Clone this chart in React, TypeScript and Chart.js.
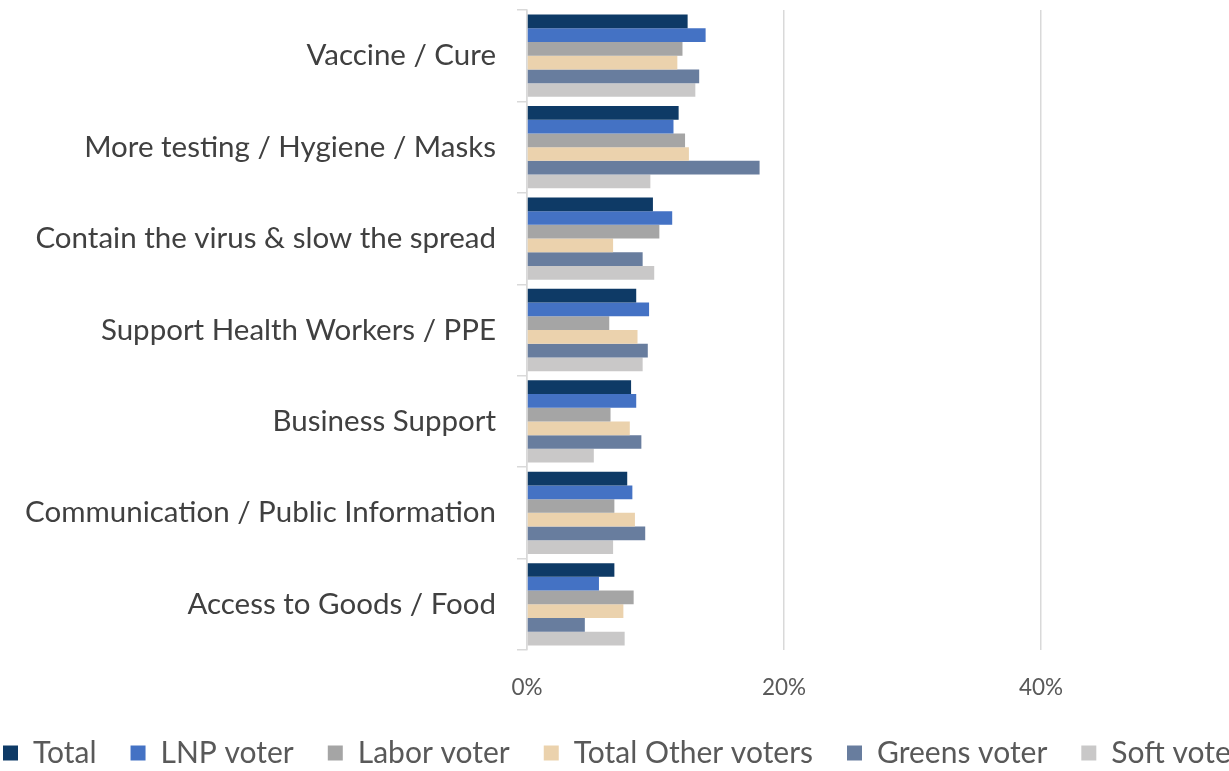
import { useEffect, useRef } from 'react';
import { Chart, registerables } from 'chart.js';

Chart.register(...registerables);

const categories = [
  'Vaccine / Cure',
  'More testing / Hygiene / Masks',
  'Contain the virus & slow the spread',
  'Support Health Workers / PPE',
  'Business Support',
  'Communication / Public Information',
  'Access to Goods / Food',
];

const seriesNames = ['Total', 'LNP voter', 'Labor voter', 'Total Other voters', 'Greens voter', 'Soft voter'];
const seriesColors = ['#0e3a66', '#4472c4', '#a5a5a5', '#ebd2ad', '#687d9e', '#c9c8c8'];

const totalValues = [12.5, 11.8, 9.8, 8.5, 8.1, 7.8, 6.8];
const lnpValues = [13.9, 11.4, 11.3, 9.5, 8.5, 8.2, 5.6];
const laborValues = [12.1, 12.3, 10.3, 6.4, 6.5, 6.8, 8.3];
const otherValues = [11.7, 12.6, 6.7, 8.6, 8.0, 8.4, 7.5];
const greensValues = [13.4, 18.1, 9.0, 9.4, 8.9, 9.2, 4.5];
const softValues = [13.1, 9.6, 9.9, 9.0, 5.2, 6.7, 7.6];

const xTicks = [0, 20, 40, 60];

const FONT = 'Lato, "Open Sans", sans-serif';
const LEGEND_PAD = 34;
const CANVAS_LEFT = 3 - LEGEND_PAD;
const CANVAS_W = 1298 - CANVAS_LEFT;
const CANVAS_H = 778;
const AXIS_X = 527;
const X_AXIS_H = 54;

export default function App() {
  const ref = useRef<HTMLCanvasElement | null>(null);

  useEffect(() => {
    if (!ref.current) return;
    const allValues = [totalValues, lnpValues, laborValues, otherValues, greensValues, softValues];
    const chart = new Chart(ref.current, {
      type: 'bar',
      data: {
        labels: categories,
        datasets: seriesNames.map((name, i) => ({
          label: name,
          data: allValues[i],
          backgroundColor: seriesColors[i],
          borderWidth: 0,
          categoryPercentage: 0.9,
          barPercentage: 1.0,
        })),
      },
      options: {
        indexAxis: 'y',
        responsive: false,
        animation: false,
        layout: { padding: { top: 10, left: 0, right: 0, bottom: 0 } },
        plugins: {
          tooltip: { enabled: false },
          legend: {
            position: 'bottom',
            align: 'start',
            labels: {
              boxWidth: 15,
              boxHeight: 15,
              padding: LEGEND_PAD,
              color: '#595959',
              font: { family: FONT, size: 30 },
            },
          },
        },
        scales: {
          x: {
            min: 0,
            max: 60,
            afterBuildTicks: (scale: any) => {
              scale.ticks = xTicks.map((v) => ({ value: v }));
            },
            afterFit: (scale: any) => {
              scale.height = X_AXIS_H;
              scale.paddingLeft = 0;
              scale.paddingRight = 0;
            },
            grid: {
              color: '#d9d9d9',
              lineWidth: 1.5,
              drawTicks: false,
            },
            border: { display: false },
            ticks: {
              padding: 24,
              color: '#595959',
              font: { family: FONT, size: 22.5 },
              callback: (v: any) => (v === 60 ? '' : v + '%'),
            },
          },
          y: {
            afterFit: (scale: any) => {
              scale.width = AXIS_X - CANVAS_LEFT;
              scale.paddingTop = 0;
              scale.paddingBottom = 0;
            },
            grid: {
              offset: true,
              drawOnChartArea: false,
              drawTicks: true,
              tickLength: 10,
              color: '#d9d9d9',
              lineWidth: 1.5,
            },
            border: { display: true, color: '#d9d9d9', width: 1.5 },
            ticks: {
              padding: 21,
              color: '#404040',
              font: { family: FONT, size: 29.5 },
            },
          },
        },
      },
    });
    return () => chart.destroy();
  }, []);

  return (
    <div style={{ position: 'absolute', left: 0, top: 0, width: 1229, height: 771, overflow: 'hidden', background: '#fff' }}>
      <canvas
        ref={ref}
        width={CANVAS_W}
        height={CANVAS_H}
        style={{ position: 'absolute', left: CANVAS_LEFT, top: 0, width: CANVAS_W, height: CANVAS_H }}
      />
    </div>
  );
}
